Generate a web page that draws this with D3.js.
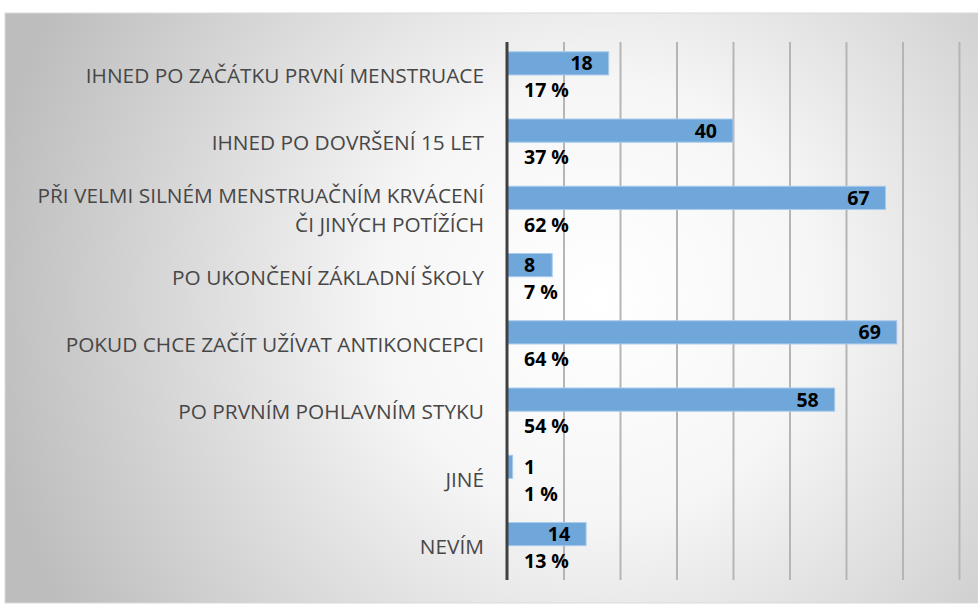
<!DOCTYPE html>
<html>
<head>
<meta charset="utf-8">
<script src="https://cdn.jsdelivr.net/npm/d3@7"></script>
<style>
  body { margin: 0; background: #fff; }
  svg { display: block; }
  .cat { font-family: "Open Sans", sans-serif; fill: #474747; }
  .val { font-family: "Open Sans", sans-serif; font-weight: bold; fill: #000; }
</style>
</head>
<body>
<svg id="chart"></svg>
<script>
const categories = [
  ["IHNED PO ZAČÁTKU PRVNÍ MENSTRUACE"],
  ["IHNED PO DOVRŠENÍ 15 LET"],
  ["PŘI VELMI SILNÉM MENSTRUAČNÍM KRVÁCENÍ", "ČI JINÝCH POTÍŽÍCH"],
  ["PO UKONČENÍ ZÁKLADNÍ ŠKOLY"],
  ["POKUD CHCE ZAČÍT UŽÍVAT ANTIKONCEPCI"],
  ["PO PRVNÍM POHLAVNÍM STYKU"],
  ["JINÉ"],
  ["NEVÍM"]
];
const counts = [18, 40, 67, 8, 69, 58, 1, 14];
const percents = [17, 37, 62, 7, 64, 54, 1, 13];
const gridValues = [10, 20, 30, 40, 50, 60, 70, 80, 90];

const W = 978, H = 604;
const svg = d3.select("#chart").attr("width", W).attr("height", H);

// radial gray background like the office chart area
const defs = svg.append("defs");
const grad = defs.append("radialGradient").attr("id", "bg")
  .attr("gradientUnits", "userSpaceOnUse")
  .attr("cx", 600).attr("cy", 300).attr("r", 620);
grad.append("stop").attr("offset", "0%").attr("stop-color", "#ffffff");
grad.append("stop").attr("offset", "35%").attr("stop-color", "#f6f6f6");
grad.append("stop").attr("offset", "100%").attr("stop-color", "#bdbdbd");

svg.append("rect").attr("x", 5).attr("y", 13).attr("width", W - 5).attr("height", H - 14)
  .attr("fill", "url(#bg)").attr("stroke", "#d9d9d9").attr("stroke-width", 1);

const x = d3.scaleLinear().domain([0, 90]).range([507, 507 + 90 * 5.65]);
const y = d3.scaleBand().domain(d3.range(categories.length)).range([42, 580]);
const bw = y.bandwidth();

// gridlines
const grid = svg.append("g").attr("transform", `translate(0,${y.range()[1]})`)
  .call(d3.axisBottom(x).tickValues(gridValues).tickSize(-(y.range()[1] - y.range()[0])).tickFormat(""));
grid.select(".domain").remove();
grid.selectAll(".tick line").attr("stroke", "#b5b5b5").attr("stroke-width", 2);

// bars
svg.selectAll(".bar").data(counts).enter().append("rect")
  .attr("class", "bar")
  .attr("x", x(0))
  .attr("y", (d, i) => y(i) + bw * 0.145)
  .attr("width", d => x(d) - x(0))
  .attr("height", bw * 0.345)
  .attr("fill", "#6fa7db")
  .attr("stroke", "#a9cbec")
  .attr("stroke-width", 1);

// vertical axis line
svg.append("line")
  .attr("x1", x(0)).attr("x2", x(0))
  .attr("y1", y.range()[0]).attr("y2", y.range()[1])
  .attr("stroke", "#404040").attr("stroke-width", 3);

// value labels
svg.selectAll(".cnt").data(counts).enter().append("text")
  .attr("class", "val")
  .attr("font-size", 19.5)
  .attr("x", d => (x(d) - 16 - 30 < x(0)) ? x(0) + 17 : x(d) - 16)
  .attr("text-anchor", d => (x(d) - 16 - 30 < x(0)) ? "start" : "end")
  .attr("y", (d, i) => y(i) + bw * 0.145 + bw * 0.345 / 2)
  .attr("dy", "0.36em")
  .text(d => d);

svg.selectAll(".pct").data(percents).enter().append("text")
  .attr("class", "val")
  .attr("font-size", 19.5)
  .attr("x", x(0) + 17)
  .attr("y", (d, i) => y(i) + bw * 0.82)
  .text(d => d + " %");

// category labels
const cat = svg.selectAll(".cat").data(categories).enter().append("text")
  .attr("class", "cat")
  .attr("font-size", 20.8)
  .attr("text-anchor", "end")
  .attr("x", 484)
  .attr("y", (d, i) => y(i) + bw / 2);
cat.selectAll("tspan").data(d => d.map((t, k) => ({ t, k, n: d.length }))).enter().append("tspan")
  .attr("x", 484)
  .attr("dy", d => d.k === 0 ? `${0.36 - (d.n - 1) * 0.68}em` : "1.36em")
  .text(d => d.t);
</script>
</body>
</html>
